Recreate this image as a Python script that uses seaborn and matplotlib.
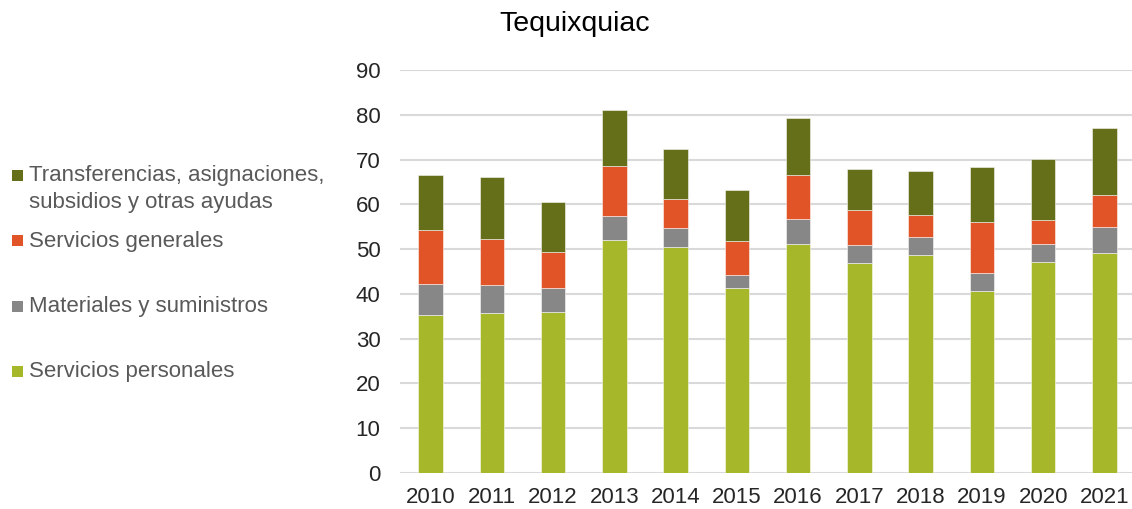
import matplotlib
matplotlib.use("Agg")
import matplotlib.pyplot as plt
from matplotlib.patches import Rectangle
import seaborn as sns
import numpy as np
import pandas as pd

years = ["2010", "2011", "2012", "2013", "2014", "2015",
         "2016", "2017", "2018", "2019", "2020", "2021"]
personales = [35.2, 35.7, 35.9, 52.1, 50.5, 41.4, 51.2, 47.0, 48.6, 40.7, 47.1, 49.1]
materiales = [6.9, 6.2, 5.4, 5.3, 4.3, 2.9, 5.6, 4.0, 4.0, 4.0, 4.0, 5.8]
generales = [12.1, 10.4, 8.1, 11.2, 6.4, 7.4, 9.8, 7.7, 5.1, 11.4, 5.5, 7.1]
transferencias = [12.4, 13.9, 11.2, 12.4, 11.2, 11.5, 12.7, 9.1, 9.8, 12.2, 13.6, 15.1]

series_names = ["Servicios personales", "Materiales y suministros",
                "Servicios generales",
                "Transferencias, asignaciones,\nsubsidios y otras ayudas"]
series_vals = [personales, materiales, generales, transferencias]
colors = ["#A6B729", "#878787", "#E05427", "#656E18"]
yticks = [0, 10, 20, 30, 40, 50, 60, 70, 80, 90]

sns.set_theme(style="white")
plt.rcParams['font.family'] = ['Liberation Sans', 'DejaVu Sans']

fig = plt.figure(figsize=(11.32, 5.09), dpi=100)
ax = fig.add_axes([400/1132, 1 - 473/509, 735/1132, (473 - 70)/509])

bottom = np.zeros(len(years))
for name, vals, col in zip(series_names, series_vals, colors):
    df = pd.DataFrame({"year": years, "value": vals})
    sns.barplot(data=df, x="year", y="value", order=years, color=col,
                bottom=bottom, width=0.4, ax=ax, saturation=1,
                edgecolor=(1, 1, 1, 0.6), linewidth=0.6, zorder=3)
    bottom = bottom + np.array(vals)

ax.set_xlim(-0.5, len(years) - 0.5)
ax.set_ylim(0, 90)
ax.set_yticks(yticks)
ax.set_yticklabels([str(t) for t in yticks])
ax.set_xlabel("")
ax.set_ylabel("")
for s in ax.spines.values():
    s.set_visible(False)
ax.yaxis.grid(True, color="#D9D9D9", linewidth=1.5, zorder=0)
ax.xaxis.grid(False)
ax.set_axisbelow(True)
ax.tick_params(axis="y", length=0, pad=14, labelsize=16, labelcolor="#262626")
ax.tick_params(axis="x", length=0, pad=10, labelsize=16, labelcolor="#262626")

fig.text(575/1132, 1 - 24/509, "Tequixquiac", ha="center", va="center",
         fontsize=20.5, color="#000000")

# legend (manual, to match uneven spacing)
leg_entries = [
    (3, 175, 189),
    (2, 240.5, 242),
    (1, 306, 306.5),
    (0, 371, 371.5),
]
for idx, sq_y, txt_y in leg_entries:
    fig.add_artist(Rectangle((11.5/1132, 1 - (sq_y + 5.5)/509), 11/1132, 11/509,
                             transform=fig.transFigure, facecolor=colors[idx],
                             edgecolor="none"))
    fig.text(29/1132, 1 - txt_y/509, series_names[idx], ha="left", va="center",
             fontsize=16, color="#595959", linespacing=1.32)

fig.savefig("out.png", dpi=100)
